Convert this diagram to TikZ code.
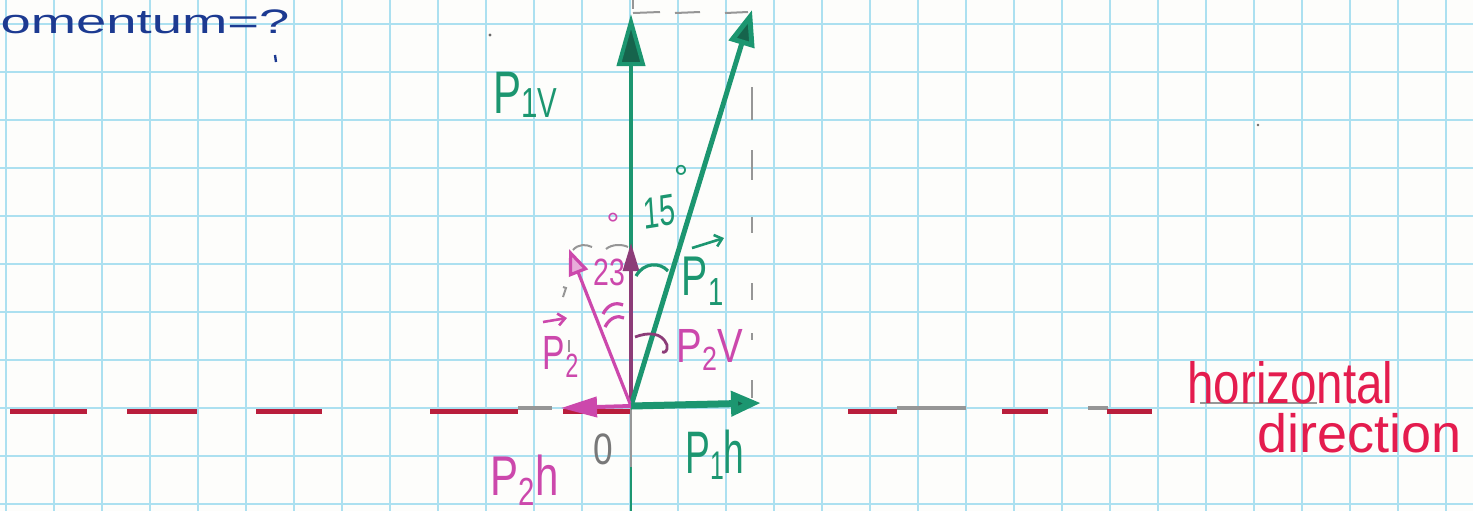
\documentclass[tikz,border=0pt]{standalone}
\usepackage{fontspec}
\setmainfont{Liberation Sans}
\usetikzlibrary{arrows.meta}
\definecolor{paper}{RGB}{253,253,251}
\definecolor{gridblue}{RGB}{172,224,240}
\definecolor{pgreen}{RGB}{28,150,112}
\definecolor{dgreen}{RGB}{22,100,76}
\definecolor{pmag}{RGB}{204,72,172}
\definecolor{dmag}{RGB}{140,60,120}
\definecolor{pred}{RGB}{228,28,78}
\definecolor{dred}{RGB}{185,30,60}
\definecolor{pblue}{RGB}{28,58,145}
\definecolor{pencil}{RGB}{150,150,150}
\newcommand{\fs}[1]{\fontsize{#1}{#1}\selectfont}
\begin{document}
\begin{tikzpicture}[x=0.5pt,y=-0.5pt,
  gridline/.style={gridblue,line width=1.2pt},
  reddash/.style={dred,line width=2.5pt},
  pencilline/.style={pencil,line width=1pt},
  greenvec/.style={pgreen,line width=2pt},
  magvec/.style={pmag,line width=1.6pt},
  glabel/.style={pgreen,inner sep=0pt},
  mlabel/.style={pmag,inner sep=0pt},
  rlabel/.style={pred,inner sep=0pt},
  vecbar/.style={line width=1.3pt,-{Straight Barb[length=3.5pt,width=6pt]}},
]
\fill[paper] (0,0) rectangle (1473,511);
\useasboundingbox (0,0) rectangle (1473,511);
% graph paper
\foreach \i in {0,...,30} \draw[gridline] ({6+48*\i},0) -- ({6+48*\i},511);
\foreach \j in {0,...,10} \draw[gridline] (0,{24+48*\j}) -- (1473,{24+48*\j});

% points
\coordinate (O) at (631,406);
\coordinate (p1vtip) at (631,14);
\coordinate (p1tip) at (752,10);
\coordinate (p1htip) at (761,403);
\coordinate (p2tip) at (569,249);
\coordinate (p2vtip) at (631,243);
\coordinate (p2htip) at (561,408);
\coordinate (below) at (631,511);
\coordinate (belowg) at (631,467);

% horizontal dashed line (red with pencil pieces)
\foreach \a/\b in {518/552,897/966,1088/1108}
  \draw[pencilline,line width=1.6pt] (\a,408) -- (\b,408);
\foreach \a/\b in {10/87,127/197,256/322,430/518,563/630,848/897,1002/1048,1107/1152}
  \draw[reddash] (\a,411) -- (\b,411);

% pencil construction marks
\draw[pencilline] (O) -- (below);
\draw[pgreen,line width=1.2pt] (belowg) -- (below);
\foreach \a/\b in {633/660,675/700,725/748}
  \draw[pencilline] (\a,13) -- (\b,12);
\draw[pencilline] (633,0) -- (633,9);
\foreach \a/\b in {87/120,150/180,217/233,283/300,333/340,380/398}
  \draw[pencilline] (752,\a) -- (752,\b);
\draw[pencilline] (573,250) .. controls (578,244) and (586,244) .. (592,247);
\draw[pencilline] (606,249) .. controls (612,244) and (622,244) .. (628,247);
\draw[pencilline] (563,287) -- (566,288) -- (563,297);
\draw[pencilline] (569,340) -- (569,352);
\fill[pencil!70!black] (490,35) circle (1.6);
\fill[pencil!70!black] (1258,125) circle (1.4);
\draw[pencilline,line width=1.3pt] (1200,403) -- (1317,403);

% vectors
\draw[greenvec,-{Triangle[length=26pt,width=14pt,fill=dgreen]}] (O) -- (p1vtip);
\draw[dmag,line width=1.6pt,-{Triangle[length=14pt,width=8pt,fill=dmag]}] (O) -- (p2vtip);
\draw[greenvec,line width=2.5pt,-{Triangle[length=18pt,width=13pt,fill=dgreen]}] (O) -- (p1tip);
\draw[magvec,-{Triangle[length=13pt,width=10pt,fill=pmag!45]}] (O) -- (p2tip);
\draw[greenvec,line width=3.5pt,-{Triangle[length=15pt,width=12pt,fill=dgreen]}] (O) -- (p1htip);
\draw[magvec,line width=2pt,-{Triangle[length=18pt,width=10pt,fill=pmag]}] (O) -- (p2htip);

% angle marks
\draw[pgreen,line width=1.6pt] (636,276) .. controls (644,262) and (660,262) .. (668,271);
\draw[pmag,line width=1.6pt] (603,314) .. controls (608,304) and (616,302) .. (623,305);
\draw[pmag,line width=1.6pt] (605,327) .. controls (610,317) and (618,315) .. (624,318);
\draw[dmag,line width=1.4pt] (635,337) .. controls (648,332) and (662,332) .. (667,345) .. controls (668,351) and (665,353) .. (662,352);

% labels
\node[pblue,inner sep=0pt,anchor=base west,xscale=1.6,font=\fs{17}] (mom) at (0,33) {omentum=?};
\draw[pblue,line width=1.2pt] (275,55) -- (276,62);
\node[glabel,font=\fs{30},xscale=0.7] (p1vlab) at (525,95) {P\raisebox{-2pt}{\fs{21}1V}};
\node[glabel,font=\fs{22},xscale=0.65,rotate=6] (ang15) at (659,212) {15};
\node[glabel,font=\fs{18}] (deg15) at (681,178) {°};
% vector P1 label
\node[glabel,font=\fs{28},xscale=0.7] (p1lab) at (703,281) {P\textsubscript{1}};
\draw[pgreen,vecbar] (692,248) -- (724,238);
% vector P2 label
\node[mlabel,font=\fs{24},xscale=0.7] (p2lab) at (561,357) {P\textsubscript{2}};
\draw[pmag,vecbar] (543,322) -- (567,318);
\node[mlabel,font=\fs{19},xscale=0.75] (ang23) at (609,272) {23};
\node[mlabel,font=\fs{16}] (deg23) at (613,224) {°};
\node[mlabel,font=\fs{24},xscale=0.8] (p2vlab) at (710,350) {P\textsubscript{2}V};
\node[glabel,font=\fs{30},xscale=0.62] (p1hlab) at (715,455) {P\raisebox{-3pt}{\fs{20}1}h};
\node[mlabel,font=\fs{28},xscale=0.75] (p2hlab) at (525,480) {P\textsubscript{2}h};
\node[pencil!80!black,inner sep=0pt,font=\fs{22},xscale=0.8] (zero) at (603,449) {0};
\node[rlabel,anchor=base west,font=\fs{29},xscale=0.82] (hor) at (1187,403) {horizontal};
\node[rlabel,anchor=base west,font=\fs{27}] (dir) at (1257,452) {direction};
\end{tikzpicture}
\end{document}
